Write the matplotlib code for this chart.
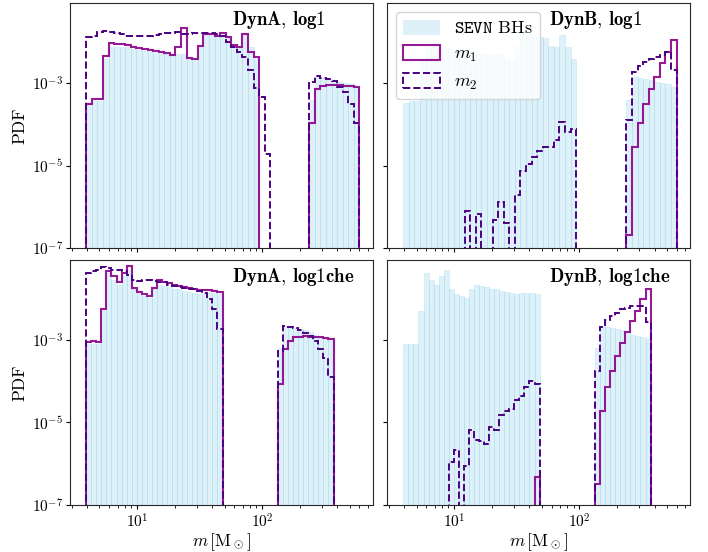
import matplotlib
matplotlib.use("Agg")
import matplotlib.pyplot as plt
from matplotlib.patches import Patch
from matplotlib.ticker import NullLocator
import numpy as np

nan = np.nan

# binning (log-uniform), one grid per SEVN model
n_bins = 49
m_range_log1 = (3.92, 600.0)
m_range_log1che = (3.92, 372.0)

# log10(PDF) per bin, nan = empty bin
sevn_log1 = [-3.49, -3.44, -3.44, -2.42, -2.12, -2.12, -2.13, -2.14, -2.18, -2.20,
             -2.23, -2.25, -2.28, -2.30, -2.31, -2.32, -2.30, -2.30, -2.42, -2.44,
             -2.10, -1.82, -1.82, -1.84, -1.88, -1.92, -2.10, -2.14, -1.84, -2.14,
             -2.42] + [nan] * 9 + \
            [-3.40, -2.86, -2.88, -2.90, -2.93, -2.98, -3.00, -3.03, -3.09]

sevn_log1che = [-3.10, -3.10, -3.10, -2.30, -1.38, -1.55, -1.67, -1.46, -1.30, -1.78,
                -1.90, -1.94, -1.98, -1.78, -1.66, -1.70, -1.72, -1.76, -1.78, -1.81,
                -1.84, -1.87, -1.90, -1.86, -1.86, -1.86, -1.88] + [nan] * 11 + \
               [-3.19, -2.66, -2.68, -2.71, -2.73, -2.77, -2.81, -2.88, -2.90, -2.94, -2.98]

dynA_log1_m1 = [-3.51, -3.39, -3.39, -2.34, -2.04, -2.05, -2.06, -2.08, -2.14, -2.16,
                -2.18, -2.20, -2.23, -2.25, -2.28, -2.32, -2.14, -1.67, -2.39, -2.41,
                -2.10, -1.81, -1.82, -1.85, -1.78, -1.88, -2.08, -2.13, -1.81, -2.24,
                -2.38] + [nan] * 9 + \
               [-3.96, -3.15, -3.07, -3.05, -3.05, -3.06, -3.07, -3.08, -3.10]
dynA_log1_m2 = [-1.88, -1.85, -1.77, -1.74, -1.76, -1.79, -1.82, -1.85, -1.86, -1.86,
                -1.87, -1.86, -1.84, -1.82, -1.80, -1.78, -1.76, -1.82, -1.81, -1.80,
                -1.80, -1.78, -1.80, -1.82, -1.85, -2.00, -2.14, -2.24, -2.38, -2.68,
                -3.13, -3.33, -4.73] + [nan] * 7 + \
               [-2.97, -2.82, -2.87, -2.90, -2.95, -3.09, -3.23, -3.50, -3.98]

dynB_log1_m1 = [nan] * 40 + [-6.68, -4.54, -3.96, -3.52, -3.15, -2.85, -2.52, -2.24, -1.96]
dynB_log1_m2 = [nan] * 11 + [-6.10, nan, -6.18, nan, nan, -6.32, -5.88, -6.40, nan,
                             -5.70, -5.13, -4.95, -4.79, -4.65, -4.54, -4.56, -4.38,
                             -3.94, -4.18, -4.12] + [nan] * 9 + \
               [-3.90, -2.74, -2.60, -2.48, -2.43, -2.36, -2.33, -2.26, -2.68]

dynA_log1che_m1 = [-3.05, -3.02, -3.04, -2.25, -1.34, -1.46, -1.60, -1.39, -1.22, -1.74,
                   -1.84, -1.90, -1.94, -1.74, -1.55, -1.59, -1.62, -1.66, -1.69, -1.71,
                   -1.74, -1.76, -1.80, -1.80, -1.80, -1.81, -1.84] + [nan] * 11 + \
                  [-4.07, -3.23, -3.02, -2.94, -2.92, -2.90, -2.92, -2.93, -2.94, -2.96, -2.98]
dynA_log1che_m2 = [-1.39, -1.34, -1.30, -1.24, -1.26, -1.30, -1.32, -1.34, -1.42, -1.56,
                   -1.58, -1.56, -1.56, -1.58, -1.59, -1.61, -1.66, -1.69, -1.71, -1.74,
                   -1.76, -1.78, -1.82, -1.87, -2.02, -2.26, -2.74] + [nan] * 11 + \
                  [-3.27, -2.66, -2.70, -2.72, -2.76, -2.84, -2.90, -3.02, -3.21, -3.45, -3.91]

dynB_log1che_m1 = [nan] * 26 + [-6.32] + [nan] * 11 + \
                  [-6.50, -4.73, -4.13, -3.75, -3.39, -3.08, -2.82, -2.54, -2.30, -2.02, -1.78]
dynB_log1che_m2 = [nan] * 9 + [-5.96, -5.67, nan, -6.06, -5.19, -5.43, -5.45, -5.53, -5.11,
                               -5.19, -4.81, -4.73, -4.67, -4.45, -4.35, -4.15, -4.00,
                               -4.07] + [nan] * 11 + \
                  [-3.75, -2.68, -2.53, -2.42, -2.34, -2.26, -2.22, -2.18, -2.17, -2.17, -2.57]

panel_titles = [["DynA", "log1"], ["DynB", "log1"], ["DynA", "log1che"], ["DynB", "log1che"]]


def to_pdf(logvals):
    lv = np.array(logvals, dtype=float)
    return np.where(np.isnan(lv), 0.0, 10.0 ** lv)


plt.rcParams["font.family"] = "serif"
plt.rcParams["font.serif"] = ["cmr10"]
plt.rcParams["mathtext.fontset"] = "cm"
plt.rcParams["axes.unicode_minus"] = False
plt.rcParams["axes.formatter.use_mathtext"] = True

edges_log1 = np.logspace(np.log10(m_range_log1[0]), np.log10(m_range_log1[1]), n_bins + 1)
edges_log1che = np.logspace(np.log10(m_range_log1che[0]), np.log10(m_range_log1che[1]), n_bins + 1)

panels = [
    (edges_log1, sevn_log1, dynA_log1_m1, dynA_log1_m2),
    (edges_log1, sevn_log1, dynB_log1_m1, dynB_log1_m2),
    (edges_log1che, sevn_log1che, dynA_log1che_m1, dynA_log1che_m2),
    (edges_log1che, sevn_log1che, dynB_log1che_m1, dynB_log1che_m2),
]

fig, axes = plt.subplots(2, 2, figsize=(7.08, 5.52), dpi=100, sharex=True, sharey=True)
fig.subplots_adjust(left=0.099, right=0.975, top=0.994, bottom=0.085, wspace=0.046, hspace=0.049)

blue_face = (0.529, 0.808, 0.922, 0.27)
blue_edge = (0.529, 0.808, 0.922, 0.32)
m1_color = "darkmagenta"
m2_color = "indigo"

for ax, (edges, sevn, m1, m2), title in zip(axes.flat, panels, panel_titles):
    ax.set_xscale("log")
    ax.set_yscale("log")
    sevn_pdf = to_pdf(sevn)
    keep = sevn_pdf > 0
    ax.bar(edges[:-1][keep], sevn_pdf[keep], width=np.diff(edges)[keep], align="edge",
           bottom=1e-12, facecolor=blue_face, edgecolor=blue_edge, linewidth=0.5)
    ax.stairs(to_pdf(m1), edges, color=m1_color, lw=1.5, alpha=0.9)
    ax.stairs(to_pdf(m2), edges, color=m2_color, lw=1.4, ls="--")
    ax.text(0.535, 0.975, r"$\mathbf{%s},\,\mathbf{%s}$" % (title[0], title[1]),
            transform=ax.transAxes, ha="left", va="top", fontsize=13.5)
    ax.tick_params(which="both", direction="out", labelsize=11, pad=2)
    ax.tick_params(which="major", length=3, width=0.8)
    ax.tick_params(which="minor", length=1.8, width=0.6)
    for sp in ax.spines.values():
        sp.set_color("0.15")

ax0 = axes[0, 0]
ax0.set_xlim(2.91, 773)
ax0.set_ylim(1e-7, 0.085)
ax0.set_yticks([1e-7, 1e-5, 1e-3])
ax0.yaxis.set_minor_locator(NullLocator())

for ax in axes[:, 0]:
    ax.set_ylabel("PDF", fontsize=12.5, labelpad=3)
for ax in axes[1, :]:
    ax.set_xlabel(r"$m\,[\mathrm{M}_\odot]$", fontsize=12.5, labelpad=1)

legend_handles = [
    Patch(facecolor=blue_face, edgecolor="none"),
    Patch(facecolor="none", edgecolor=m1_color, lw=1.5, alpha=0.9),
    Patch(facecolor="none", edgecolor=m2_color, lw=1.4, ls="--"),
]
axes[0, 1].legend(legend_handles, [r"$\mathtt{SEVN}$ BHs", r"$m_1$", r"$m_2$"],
                  loc="upper left", fontsize=13, handleheight=0.9)

fig.savefig("out.png", dpi=100)
